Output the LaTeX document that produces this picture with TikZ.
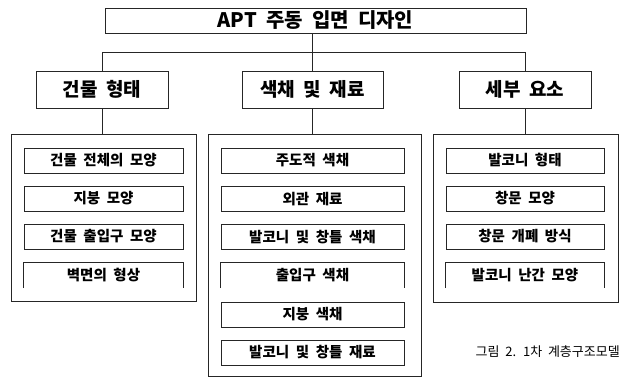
\documentclass[tikz,border=0pt]{standalone}
\usepackage{fontspec}
\setmainfont{Noto Sans CJK KR}[WordSpace=2]
\begin{document}
\begin{tikzpicture}[x=1pt,y=-1pt,
  box/.style={draw=black!85, line width=0.8pt, inner sep=0pt, font=\bfseries},
  topbox/.style={box, minimum width=421pt, minimum height=25pt, font=\bfseries\fontsize{20}{22}\selectfont},
  catbox/.style={box, minimum height=37pt, font=\bfseries\fontsize{19}{21}\selectfont},
  grp/.style={draw=black!85, line width=0.8pt, inner sep=0pt},
  item/.style={box, minimum height=25pt, font=\bfseries\fontsize{14.5}{16}\selectfont},
  openitem/.style={inner sep=0pt, minimum height=25pt, font=\bfseries\fontsize{14.5}{16}\selectfont},
  conn/.style={draw=black!85, line width=0.8pt}
]
\useasboundingbox (0,0) rectangle (623,378);

\node[topbox] (top) at (315.5,20.5) {APT 주동 입면 디자인};

\node[catbox, minimum width=132pt] (ca) at (102,89.5) {건물 형태};
\node[catbox, minimum width=141pt] (cb) at (312.5,89.5) {색채 및 재료};
\node[catbox, minimum width=132pt] (cc) at (525,89.5) {세부 요소};

\node[grp, minimum width=185pt, minimum height=167pt] (ga) at (103.5,217.5) {};
\node[grp, minimum width=213pt, minimum height=242pt] (gb) at (314.5,255) {};
\node[grp, minimum width=185pt, minimum height=168pt] (gc) at (525.5,218) {};

\coordinate (hb) at (313,52);
\draw[conn] (cb.north |- top.south) -- (cb.north);
\draw[conn] (ca.north |- hb) -- (cc.north |- hb);
\draw[conn] (ca.north |- hb) -- (ca.north);
\draw[conn] (cc.north |- hb) -- (cc.north);
\draw[conn] (ca.south) -- (ca.south |- ga.north);
\draw[conn] (cb.south) -- (cb.south |- gb.north);
\draw[conn] (cc.south) -- (cc.south |- gc.north);

% left group
\node[item, minimum width=159pt] (a1) at (103.5,160.5) {건물 전체의 모양};
\node[item, minimum width=159pt] (a2) at (103.5,198.5) {지붕 모양};
\node[item, minimum width=159pt] (a3) at (103.5,236.5) {건물 출입구 모양};
\node[openitem, minimum width=159pt] (a4) at (103.5,275.5) {벽면의 형상};
\draw[conn] (a4.south west) -- (a4.north west) -- (a4.north east) -- (a4.south east);

% middle group
\node[item, minimum width=183pt] (b1) at (312.5,160.5) {주도적 색채};
\node[item, minimum width=183pt] (b2) at (312.5,199) {외관 재료};
\node[item, minimum width=183pt] (b3) at (312.5,237) {발코니 및 창틀 색채};
\node[openitem, minimum width=183pt] (b4) at (312.5,275.5) {출입구 색채};
\draw[conn] (b4.south west) -- (b4.north west) -- (b4.north east) -- (b4.south east);
\node[item, minimum width=183pt] (b5) at (312.5,314.5) {지붕 색채};
\node[item, minimum width=183pt] (b6) at (312.5,352.5) {발코니 및 창틀 재료};

% right group
\node[item, minimum width=158pt] (c1) at (525,160.5) {발코니 형태};
\node[item, minimum width=158pt] (c2) at (525,198.5) {창문 모양};
\node[item, minimum width=158pt] (c3) at (525,236.5) {창문 개폐 방식};
\node[openitem, minimum width=158pt] (c4) at (525,275.5) {발코니 난간 모양};
\draw[conn] (c4.south west) -- (c4.north west) -- (c4.north east) -- (c4.south east);

\node[anchor=east, inner sep=0pt, font=\fontsize{13}{15}\selectfont] (cap) at (620,352) {그림 2. 1차 계층구조모델};
\end{tikzpicture}
\end{document}
